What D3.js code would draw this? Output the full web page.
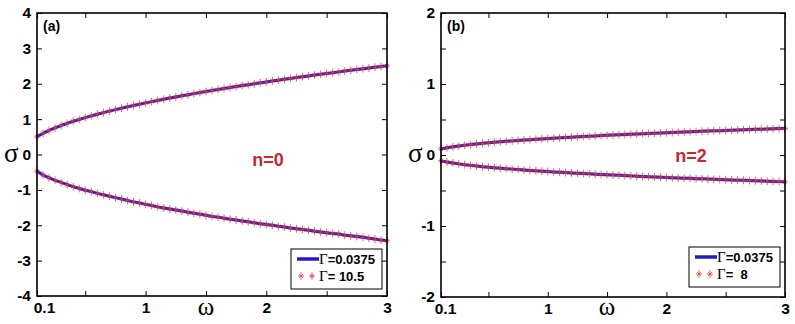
<!DOCTYPE html>
<html><head><meta charset="utf-8">
<script src="https://cdn.jsdelivr.net/npm/d3@7"></script>
<style>body{margin:0;background:#fff}svg{display:block}</style>
</head><body>
<svg id="c" width="795" height="324"></svg>
<script>
// ---- data ----
const omega = [0.10,0.15,0.20,0.25,0.30,0.35,0.40,0.45,0.50,0.55,0.60,0.65,0.70,0.75,0.80,0.85,0.90,0.95,1.00,
  1.05,1.10,1.15,1.20,1.25,1.30,1.35,1.40,1.45,1.50,1.55,1.60,1.65,1.70,1.75,1.80,1.85,1.90,1.95,2.00,
  2.05,2.10,2.15,2.20,2.25,2.30,2.35,2.40,2.45,2.50,2.55,2.60,2.65,2.70,2.75,2.80,2.85,2.90,2.95,3.00];

// panel (a), n=0
const sigmaA_upper = [0.50,0.60,0.68,0.755,0.82,0.88,0.94,0.99,1.044,1.093,1.139,1.184,1.227,1.269,1.309,1.348,1.386,1.423,1.459,
  1.495,1.529,1.563,1.596,1.628,1.660,1.691,1.721,1.751,1.780,1.809,1.838,1.866,1.894,1.921,1.948,1.974,2.000,2.026,2.052,
  2.077,2.102,2.127,2.151,2.175,2.199,2.222,2.245,2.268,2.291,2.314,2.336,2.358,2.380,2.402,2.424,2.445,2.466,2.487,2.508];
const sigmaA_lower = [-0.47,-0.58,-0.66,-0.73,-0.79,-0.85,-0.91,-0.96,-1.01,-1.05,-1.10,-1.14,-1.18,-1.22,-1.26,-1.30,-1.34,-1.37,-1.41,
  -1.44,-1.48,-1.51,-1.54,-1.57,-1.60,-1.63,-1.66,-1.69,-1.72,-1.75,-1.77,-1.80,-1.83,-1.85,-1.88,-1.90,-1.93,-1.96,-1.98,
  -2.00,-2.03,-2.05,-2.08,-2.10,-2.12,-2.14,-2.17,-2.19,-2.21,-2.23,-2.25,-2.28,-2.30,-2.32,-2.34,-2.37,-2.39,-2.42,-2.44];

// panel (b), n=2
const sigmaB_upper = [0.085,0.101,0.115,0.127,0.137,0.147,0.156,0.164,0.171,0.179,0.186,0.192,0.199,0.205,0.210,0.216,0.222,0.227,0.232,
  0.237,0.242,0.247,0.251,0.256,0.260,0.264,0.269,0.273,0.277,0.281,0.285,0.289,0.292,0.296,0.300,0.303,0.307,0.310,0.314,
  0.317,0.321,0.324,0.327,0.330,0.334,0.337,0.340,0.343,0.346,0.349,0.352,0.355,0.358,0.361,0.363,0.366,0.369,0.372,0.375];
const sigmaB_lower = [-0.080,-0.098,-0.112,-0.125,-0.136,-0.146,-0.155,-0.164,-0.171,-0.179,-0.186,-0.192,-0.199,-0.205,-0.211,-0.217,-0.222,-0.228,-0.233,
  -0.238,-0.243,-0.248,-0.252,-0.257,-0.261,-0.265,-0.270,-0.274,-0.278,-0.282,-0.286,-0.290,-0.294,-0.298,-0.302,-0.305,-0.309,-0.312,-0.316,
  -0.319,-0.323,-0.326,-0.329,-0.333,-0.336,-0.339,-0.342,-0.345,-0.348,-0.351,-0.354,-0.357,-0.360,-0.363,-0.366,-0.369,-0.372,-0.375,-0.378];

const xTicks = [0.1,0.5,1,1.5,2,2.5,3];
const xTickLabels = ["0.1","","1","","2","","3"];
const yTicksA = [-4,-3,-2,-1,0,1,2,3,4];
const yTickLabelsA = ["-4","-3","-2","-1","0","1","2","3","4"];
const yTicksB = [-2,-1.5,-1,-0.5,0,0.5,1,1.5,2];
const yTickLabelsB = ["-2","","-1","","0","","1","","2"];
const panelTags = ["(a)","(b)"];
const modeLabels = ["n=0","n=2"];
const legendA = ["=0.0375","= 10.5"];
const legendB = ["=0.0375","=  8"];

// ---- drawing ----
const svg = d3.select("#c");
svg.append("rect").attr("width",795).attr("height",324).attr("fill","#fff");

const BLUE = "#2418c8", RED = "#d83a3c";
const SANS = "'Liberation Sans', Arial, sans-serif", SERIF = "'Liberation Serif','Times New Roman',serif";

function star(g, x, y, s) {
  g.append("path")
    .attr("d", `M${x-s},${y}H${x+s}M${x},${y-s*1.3}V${y+s*1.3}M${x-s*0.6},${y-s*0.6}L${x+s*0.6},${y+s*0.6}M${x-s*0.6},${y+s*0.6}L${x+s*0.6},${y-s*0.6}`)
    .attr("stroke", RED).attr("stroke-width", 0.9).attr("stroke-opacity",0.85).attr("fill","none");
}

function panel(cfg) {
  const x = d3.scaleLinear().domain([0.1,3]).range([cfg.left, cfg.right]);
  const y = d3.scaleLinear().domain(cfg.yDomain).range([cfg.bottom, cfg.top]);
  const g = svg.append("g");
  const fmtX = d => xTickLabels[xTicks.indexOf(d)];
  const fmtY = d => cfg.yLabels[cfg.yTicks.indexOf(d)];

  const styleAxis = (sel) => {
    sel.select(".domain").remove();
    sel.selectAll(".tick line").attr("stroke","#000").attr("stroke-width",1);
    sel.selectAll(".tick text").attr("fill","#000").style("font-family",SANS)
      .style("font-weight","bold").style("font-size","15.5px");
  };

  const bx = g.append("g").attr("transform",`translate(0,${cfg.bottom})`)
    .call(d3.axisBottom(x).tickValues(xTicks).tickSize(-5).tickPadding(6).tickFormat(fmtX));
  styleAxis(bx);
  bx.selectAll(".tick text").filter(d => d === 0.1).attr("x", cfg.firstDx);
  const tx = g.append("g").attr("transform",`translate(0,${cfg.top})`)
    .call(d3.axisTop(x).tickValues(xTicks).tickSize(-5).tickFormat(""));
  styleAxis(tx);
  const ly = g.append("g").attr("transform",`translate(${cfg.left},0)`)
    .call(d3.axisLeft(y).tickValues(cfg.yTicks).tickSize(-5).tickPadding(6).tickFormat(fmtY));
  styleAxis(ly);
  const ry = g.append("g").attr("transform",`translate(${cfg.right},0)`)
    .call(d3.axisRight(y).tickValues(cfg.yTicks).tickSize(-5).tickFormat(""));
  styleAxis(ry);

  // curves
  const line = d3.line().x((d,i) => x(omega[i])).y(d => y(d));
  cfg.series.forEach(s => {
    g.append("path").datum(s).attr("d", line).attr("fill","none")
      .attr("stroke", BLUE).attr("stroke-width", 3);
  });
  cfg.series.forEach(s => {
    const mg = g.append("g");
    s.forEach((v,i) => star(mg, x(omega[i]), y(v), 3));
  });

  // frame
  g.append("rect").attr("x",cfg.left).attr("y",cfg.top)
    .attr("width",cfg.right-cfg.left).attr("height",cfg.bottom-cfg.top)
    .attr("fill","none").attr("stroke","#000").attr("stroke-width",1.6);

  // tag
  g.append("text").attr("x",cfg.left+6).attr("y",31).text(cfg.tag)
    .style("font-family",SANS).style("font-weight","bold").style("font-size","14px");
  // mode label
  g.append("text").attr("x",cfg.modeX).attr("y",cfg.modeY).attr("text-anchor","middle").text(cfg.mode)
    .attr("fill","#c8282e").style("font-family",SANS).style("font-weight","bold").style("font-size","18px");
  // axis labels
  g.append("text").attr("x",x(1.5)).attr("y",315).attr("text-anchor","middle").text("ω")
    .style("font-family",SERIF).style("font-size","25px");
  g.append("text").attr("x",cfg.left-33).attr("y",162).text("σ")
    .style("font-family",SERIF).style("font-size","27px");

  // legend
  const L = cfg.legend;
  const lg = g.append("g");
  lg.append("rect").attr("x",L.x).attr("y",L.y).attr("width",L.w).attr("height",L.h)
    .attr("fill","#fff").attr("stroke","#000").attr("stroke-width",1);
  lg.append("line").attr("x1",L.x+6).attr("x2",L.x+28).attr("y1",L.y+10).attr("y2",L.y+10)
    .attr("stroke",BLUE).attr("stroke-width",3.5);
  star(lg, L.x+10, L.y+27, 3);
  star(lg, L.x+21, L.y+27, 3);
  L.texts.forEach((t,i) => {
    const tt = lg.append("text").attr("x",L.x+28).attr("y",L.y+(i===0?15:32)).attr("xml:space","preserve")
      .style("white-space","pre");
    tt.append("tspan").text("Γ").style("font-family",SERIF).style("font-size","15px");
    tt.append("tspan").text(t).style("font-family",SANS).style("font-weight","bold").style("font-size","13px");
  });
}

panel({left:37,right:387,top:13,bottom:296,yDomain:[-4,4],yTicks:yTicksA,yLabels:yTickLabelsA,
  series:[sigmaA_upper,sigmaA_lower],tag:panelTags[0],mode:modeLabels[0],modeX:268,modeY:166,firstDx:7,
  legend:{x:291,y:249,w:91,h:40,texts:legendA}});
panel({left:441,right:785,top:13,bottom:297,yDomain:[-2,2],yTicks:yTicksB,yLabels:yTickLabelsB,
  series:[sigmaB_upper,sigmaB_lower],tag:panelTags[1],mode:modeLabels[1],modeX:691,modeY:162,firstDx:4,
  legend:{x:689,y:247,w:91,h:40,texts:legendB}});
</script>
</body></html>
